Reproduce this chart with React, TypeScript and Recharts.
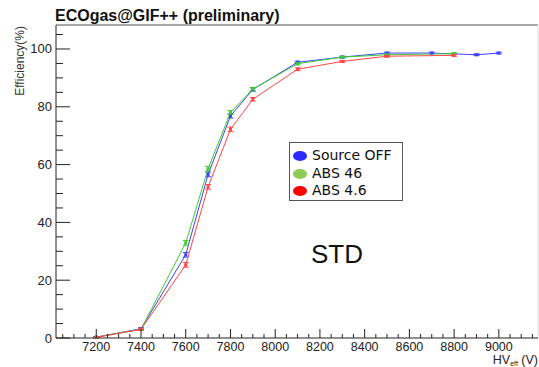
import React from "react";
import { LineChart, Line, XAxis, YAxis, ErrorBar, ReferenceLine, Legend, Customized } from "recharts";

// HV_eff (V) scan points per configuration
const hvSourceOff = [7200, 7400, 7600, 7700, 7800, 7900, 8100, 8300, 8500, 8700, 8900, 9000];
const effSourceOff = [0.3, 3.2, 28.8, 56.6, 76.8, 86.0, 95.4, 97.2, 98.6, 98.6, 98.0, 98.6];
const errSourceOff = [0.2, 0.4, 0.8, 0.8, 0.7, 0.6, 0.4, 0.3, 0.3, 0.3, 0.3, 0.3];

const hvAbs46 = [7200, 7400, 7600, 7700, 7800, 7900, 8100, 8300, 8500, 8800];
const effAbs46 = [0.3, 3.0, 32.9, 58.6, 78.0, 86.1, 94.9, 97.2, 98.0, 98.4];
const errAbs46 = [0.2, 0.4, 0.8, 0.8, 0.7, 0.6, 0.4, 0.3, 0.3, 0.3];

const hvAbs4p6 = [7200, 7400, 7600, 7700, 7800, 7900, 8100, 8300, 8500, 8800];
const effAbs4p6 = [0.2, 3.0, 25.3, 52.3, 72.2, 82.6, 93.0, 95.7, 97.5, 97.8];
const errAbs4p6 = [0.2, 0.4, 0.8, 0.8, 0.8, 0.6, 0.5, 0.3, 0.3, 0.3];

const seriesNames = ["Source OFF", "ABS 46", "ABS 4.6"];
const legendColors = ["#2b2bff", "#8fcc55", "#ff0000"];
const lineColors = ["#4040ff", "#3fcc2f", "#ff4545"];

// axis ticks: majors get labels, minors are short marks
const xTicks: number[] = [];
for (let v = 7050; v <= 9150; v += 50) xTicks.push(v);
const yTicks: number[] = [];
for (let v = 0; v <= 105; v += 5) yTicks.push(v);

const build = (hv: number[], eff: number[], err: number[]) =>
  hv.map((x, i) => ({ hv: x, eff: eff[i], err: err[i] }));

const series = [
  build(hvSourceOff, effSourceOff, errSourceOff),
  build(hvAbs46, effAbs46, errAbs46),
  build(hvAbs4p6, effAbs4p6, errAbs4p6),
];

const FONT = "'Liberation Sans', Arial, Helvetica, sans-serif";

const XTick = (props: any) => {
  const { x, y, payload } = props;
  const v = payload.value;
  const major = v % 200 === 0;
  return (
    <g>
      <line x1={x} x2={x} y1={y} y2={y - (major ? 9 : 4)} stroke="#222" strokeWidth={1} />
      {major && v >= 7200 && v <= 9000 && (
        <text x={x} y={y + 13} textAnchor="middle" fontSize={12.5} fontFamily={FONT} fill="#222">
          {v}
        </text>
      )}
    </g>
  );
};

const YTick = (props: any) => {
  const { x, y, payload } = props;
  const v = payload.value;
  const major = v % 20 === 0;
  return (
    <g>
      <line x1={x} x2={x + (major ? 14 : 7)} y1={y} y2={y} stroke="#222" strokeWidth={1} />
      {major && (
        <text x={x - 4} y={y + 4.5} textAnchor="end" fontSize={13} fontFamily={FONT} fill="#222">
          {v}
        </text>
      )}
    </g>
  );
};

const SquareDot = (color: string) => (props: any) => {
  const { cx, cy, index } = props;
  return <rect key={index} x={cx - 1.5} y={cy - 1.5} width={3} height={3} fill={color} />;
};

const LegendBox = () => (
  <div
    style={{
      width: 112,
      height: 57,
      border: "1px solid #555",
      background: "#fff",
      fontFamily: "'DejaVu Sans', sans-serif",
      fontSize: 14,
      color: "#111",
      boxSizing: "content-box",
    }}
  >
    {seriesNames.map((name, i) => (
      <div key={name} style={{ position: "relative", height: 17.5, marginTop: i === 0 ? 4 : 0 }}>
        <span
          style={{
            position: "absolute",
            left: 3,
            top: 4,
            width: 14,
            height: 10,
            borderRadius: "50%",
            background: legendColors[i],
          }}
        />
        <span style={{ position: "absolute", left: 22, top: 0, lineHeight: "17px" }}>{name}</span>
      </div>
    ))}
  </div>
);

const Annotations = () => (
  <g>
    <text x={55} y={21} fontSize={16} fontWeight="bold" fontFamily={FONT} fill="#111">
      ECOgas@GIF++ (preliminary)
    </text>
    <text
      transform="translate(24, 26) rotate(-90)"
      textAnchor="end"
      fontSize={12}
      fontFamily={FONT}
      fill="#333"
    >
      Efficiency(%)
    </text>
    <text x={311} y={263} fontSize={26} fontFamily={FONT} fill="#111">
      STD
    </text>
    <text x={538} y={363.5} textAnchor="end" fontFamily={FONT} fill="#222">
      <tspan fontSize={12.5}>HV</tspan>
      <tspan fontSize={7} dy={2}>eff</tspan>
      <tspan fontSize={12.5} dy={-2}> (V)</tspan>
    </text>
  </g>
);

export default function App() {
  return (
    <div style={{ position: "absolute", left: 0, top: 0, width: 539, height: 367, background: "#fff" }}>
      <LineChart width={539} height={367} data={series[0]} margin={{ top: 25, right: 1, bottom: 0, left: 0 }}>
        <XAxis
          dataKey="hv"
          type="number"
          domain={[7020, 9175]}
          allowDataOverflow
          ticks={xTicks}
          interval={0}
          height={29}
          tickSize={0}
          tickMargin={0}
          tickLine={false}
          axisLine={{ stroke: "#222" }}
          tick={<XTick />}
        />
        <YAxis
          type="number"
          domain={[0, 108.3]}
          allowDataOverflow
          ticks={yTicks}
          interval={0}
          width={56}
          tickSize={0}
          tickMargin={0}
          tickLine={false}
          axisLine={{ stroke: "#222" }}
          tick={<YTick />}
        />
        <ReferenceLine y={108.3} stroke="#8a8a8a" strokeWidth={1.5} />
        <ReferenceLine x={9175} stroke="#dddddd" />
        {series.map((d, i) => (
          <Line
            key={seriesNames[i]}
            data={d}
            dataKey="eff"
            name={seriesNames[i]}
            stroke={lineColors[i]}
            strokeWidth={1}
            dot={SquareDot(lineColors[i])}
            activeDot={false}
            isAnimationActive={false}
          >
            <ErrorBar dataKey="err" direction="y" width={3} stroke={lineColors[i]} strokeWidth={1} />
          </Line>
        ))}
        <Legend
          layout="vertical"
          align="center"
          verticalAlign="middle"
          wrapperStyle={{ left: 289, top: 142, width: 114, height: 59 }}
          content={<LegendBox />}
        />
        <Customized component={Annotations} />
      </LineChart>
    </div>
  );
}
